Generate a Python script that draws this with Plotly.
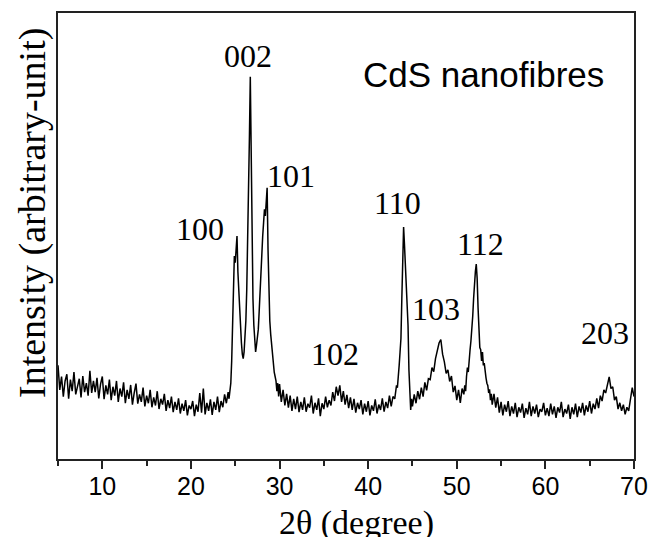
import numpy as np
import plotly.graph_objects as go

# ---- data (2theta in degrees, intensity in arbitrary units 0..100) ----
# Segment A: 5.0 -> 24.2 step 0.2
segA_start, segA_step = 5.0, 0.2
segA_int = [21, 15.5, 18.5, 14, 17.5,
            19, 13.5, 17.8, 15.2, 19.5,
            14.5, 16.5, 18, 13.8, 18.6,
            15, 17, 14.2, 19.8, 14.8,
            17.5, 15, 18.2, 13.6, 16.8,
            18.5, 13.4, 16.5, 14.5, 17.8,
            13.2, 16.2, 14.2, 17.5, 12.8,
            15.8, 14, 17.2, 12.5, 15.5,
            13.5, 16.6, 12.2, 14.8, 16.9,
            12.4, 14.5, 12.8, 16, 11.8,
            14.2, 12.5, 15.5, 11.6, 13.8,
            12, 15.2, 11.2, 13.5, 12.2,
            14.6, 10.8, 13.2, 11.4, 14,
            10.5, 12.8, 11, 13.6, 10.2,
            12.4, 10.8, 13.2, 9.8, 12,
            11.2, 13, 9.6, 12.2, 10.6,
            14.8, 10.4, 15.8, 10, 12.6,
            10.8, 13.4, 9.9, 12.8, 11,
            14, 10.5, 13, 11.6, 14.5,
            12.5, 15]
# Segment B: 24.3 -> 29.9 step 0.1 (peaks 100, 002, 101)
segB_start, segB_step = 24.3, 0.1
segB_int = [13.5, 15.5, 17, 22, 30, 42, 45.5,
            44, 47, 50, 42, 37, 34, 30.5, 26, 23.5, 22.5,
            24, 27, 31, 38, 47, 58, 72, 85.7, 68, 47,
            36, 30, 26, 24, 25.5, 27, 29, 33, 38, 42,
            47, 50, 53, 56, 54.5, 57, 60.8, 47, 37, 31,
            28, 25.5, 24, 22, 19.5, 18.5, 17.5, 15.2, 17, 14]
# Segment C: 30.0 -> 43.2 step 0.2 (102 bump)
segC_start, segC_step = 30.0, 0.2
segC_int = [16.8, 12.8, 15.5, 12, 14.6,
            11.5, 14.2, 10.8, 13.5, 11.2,
            14, 10.5, 12.8, 11, 13.8,
            10.6, 12.4, 11.5, 14.2, 10.2,
            12.6, 11, 13.6, 9.6, 12.5,
            11.2, 14, 11.6, 13.2, 12,
            15, 13, 16.2, 14.2, 16.5,
            12.8, 15.2, 12.2, 14.4, 11.4,
            13.8, 11, 13.5, 10.4, 12.6,
            11.2, 13.2, 10, 12.4, 10.6,
            13, 9.8, 12, 10.8, 13.4,
            10.2, 12.2, 11, 13.6, 10.6,
            12.8, 11.4, 14.2, 11.8, 14,
            13.5, 16.5]
# Segment D: 43.3 -> 44.9 step 0.1 (peak 110)
segD_start, segD_step = 43.3, 0.1
segD_int = [16, 18, 21, 24, 27, 36, 47, 52, 48, 43, 38, 34, 30, 20, 14.5, 11, 13.5]
# Segment E: 45.0 -> 50.8 step 0.2 (peak 103)
segE_start, segE_step = 45.0, 0.2
segE_int = [11.8, 14.5, 12.5, 15.2, 13.4,
            16, 14, 17.2, 15.4, 18,
            17.8, 20.5, 19.6, 22.5, 24.5,
            26, 26.8, 23.5, 21.8, 19.2,
            20, 17.4, 18.6, 15, 16.4,
            13.2, 15.5, 12.6, 15.8, 14.5]
# Segment F: 50.9 -> 53.9 step 0.1 (peak 112)
segF_start, segF_step = 50.9, 0.1
segF_int = [16.5,
            15.2, 18.5, 20.5, 19.5, 23, 24.5, 26.5, 28.5, 32, 36,
            40, 42, 43.7, 40.5, 34, 28, 25, 24.5, 22, 24,
            21, 21.5, 19, 18.2, 17, 16.5, 14.8, 15.6, 13.2, 14.6]
# Segment G: 54.0 -> 70.0 step 0.2 (peak 203)
segG_start, segG_step = 54.0, 0.2
segG_int = [12.2, 14.6, 11.5, 13.8, 10.4,
            12.8, 9.8, 12.2, 10.6, 13,
            9.6, 11.8, 10.2, 12.6, 9.4,
            11.6, 10.4, 12.4, 9.2, 11.4,
            10, 12.8, 9.6, 11.8, 10.2,
            12.2, 9.4, 11.2, 10.6, 12.6,
            9.8, 11.4, 9.6, 12.4, 10,
            11.8, 9.2, 11.6, 10.4, 12.8,
            9.4, 11.2, 10.2, 12.2, 9,
            11.6, 10, 12.4, 9.4, 11.8,
            10.4, 12.6, 9.8, 12, 10.6,
            13, 10.2, 12.4, 11.2, 13.6,
            11.4, 14.2, 13, 15.5, 14.8,
            16.6, 18.4, 15.8, 16.2, 13.2,
            14, 11.2, 12.6, 10.8, 12.2,
            10, 11.6, 10.8, 13.5, 16,
            14]

peak_labels = ["100", "002", "101", "102", "110", "103", "112", "203"]
peak_label_x = [21.0, 26.4, 31.3, 36.3, 43.3, 47.6, 52.7, 66.7]
peak_label_y = [51.6, 90.3, 63.5, 23.5, 57.4, 33.6, 48.1, 28.2]
x_ticks = [10, 20, 30, 40, 50, 60, 70]
sample_name = "CdS nanofibres"

segments = [(segA_start, segA_step, segA_int), (segB_start, segB_step, segB_int),
            (segC_start, segC_step, segC_int), (segD_start, segD_step, segD_int),
            (segE_start, segE_step, segE_int), (segF_start, segF_step, segF_int),
            (segG_start, segG_step, segG_int)]
expected_len = [97, 57, 67, 17, 30, 31, 81]
two_theta, intensity = [], []
for (s, st, vals), n in zip(segments, expected_len):
    assert len(vals) == n, (s, len(vals), n)
    two_theta += [round(s + st * i, 2) for i in range(len(vals))]
    intensity += vals

fig = go.Figure()
fig.add_trace(go.Scatter(x=two_theta, y=intensity, mode="lines",
                         line=dict(color="black", width=1.5), showlegend=False,
                         hoverinfo="skip"))

serif = "Liberation Serif, Times New Roman, serif"
sans = "Liberation Sans, Arial, sans-serif"

for t, px, py in zip(peak_labels, peak_label_x, peak_label_y):
    fig.add_annotation(x=px, y=py, text=t, showarrow=False, xref="x", yref="y",
                       font=dict(family=serif, size=32, color="black"),
                       xanchor="center", yanchor="middle")

fig.add_annotation(x=53.0, y=86.2, text=sample_name, showarrow=False,
                   font=dict(family=sans, size=35, color="black"),
                   xanchor="center", yanchor="middle")

# axis titles
fig.add_annotation(x=0.518, y=-0.143, xref="paper", yref="paper", text="2θ (degree)",
                   showarrow=False, font=dict(family=serif, size=34, color="black"),
                   xanchor="center", yanchor="middle")
fig.add_annotation(x=-0.0444, y=0.5525, xref="paper", yref="paper",
                   text="Intensity (arbitrary-unit)", textangle=-90,
                   showarrow=False, font=dict(family=serif, size=38, color="black"),
                   xanchor="center", yanchor="middle")

fig.update_layout(
    width=659, height=537,
    margin=dict(l=58, r=15, t=11, b=78),
    paper_bgcolor="white", plot_bgcolor="white",
    xaxis=dict(range=[5, 70], tickmode="array", tickvals=x_ticks,
               ticks="outside", ticklen=8, tickwidth=1.5, tickcolor="#222",
               ticklabelstandoff=-4,
               showline=True, linecolor="#222", linewidth=1.5, mirror=True,
               showgrid=False, zeroline=False,
               tickfont=dict(family=sans, size=25, color="black"),
               minor=dict(dtick=5, tick0=5, ticks="outside", ticklen=5,
                          tickwidth=1.5, tickcolor="#222", showgrid=False)),
    yaxis=dict(range=[0, 100], showticklabels=False, ticks="",
               showline=True, linecolor="#222", linewidth=1.5, mirror=True,
               showgrid=False, zeroline=False),
)

fig.write_html("out.html", config={"displayModeBar": False},
               post_script="document.body.style.margin='0';document.body.style.overflow='hidden';")
